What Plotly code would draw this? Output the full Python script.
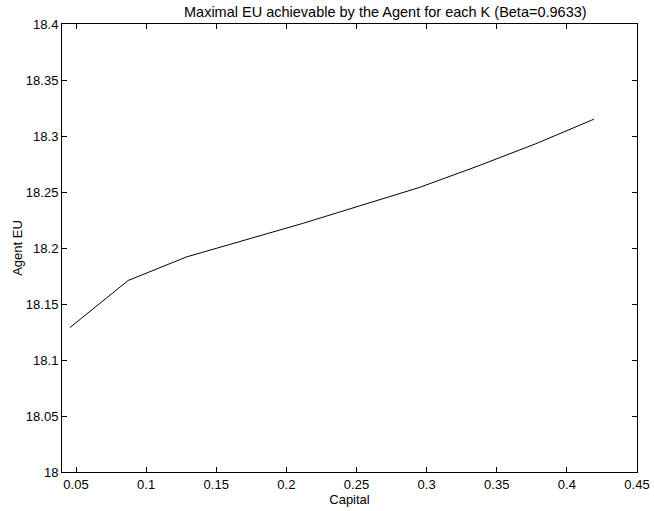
import plotly.graph_objects as go

capital = [0.0457, 0.0872, 0.1287, 0.1702, 0.2117, 0.2532, 0.2947, 0.3362, 0.3777, 0.4193]
agent_eu = [18.129, 18.171, 18.192, 18.207, 18.222, 18.238, 18.254, 18.273, 18.293, 18.315]

x_ticks = [0.05, 0.1, 0.15, 0.2, 0.25, 0.3, 0.35, 0.4, 0.45]
x_tick_labels = ["0.05", "0.1", "0.15", "0.2", "0.25", "0.3", "0.35", "0.4", "0.45"]
y_ticks = [18, 18.05, 18.1, 18.15, 18.2, 18.25, 18.3, 18.35, 18.4]
y_tick_labels = ["18", "18.05", "18.1", "18.15", "18.2", "18.25", "18.3", "18.35", "18.4"]

font = dict(family="Liberation Sans, Arial, sans-serif", size=13, color="black")

fig = go.Figure()
fig.add_trace(go.Scatter(x=capital, y=agent_eu, mode="lines",
                         line=dict(color="black", width=1), showlegend=False))

axis_common = dict(showline=True, linecolor="black", linewidth=1, mirror="ticks",
                   ticks="inside", ticklen=5, tickcolor="black", tickwidth=1,
                   showgrid=False, zeroline=False, tickfont=font, automargin=False)

fig.update_layout(
    width=654, height=511,
    margin=dict(l=62, r=17, t=24, b=39),
    paper_bgcolor="white", plot_bgcolor="white",
    font=font,
    xaxis=dict(range=[0.04, 0.45], tickvals=x_ticks, ticktext=x_tick_labels,
               title=dict(text="Capital", font=font, standoff=0), **axis_common),
    yaxis=dict(range=[18, 18.4], tickvals=y_ticks, ticktext=y_tick_labels,
               ticklabelstandoff=0,
               title=dict(text="Agent EU", font=font, standoff=0), **axis_common),
    annotations=[dict(text="Maximal EU achievable by the Agent for each K (Beta=0.9633)",
                      x=(385 - 62) / 575, xref="paper", y=1, yref="paper", showarrow=False,
                      xanchor="center", yanchor="bottom", yshift=2,
                      font=dict(family=font["family"], size=14.5, color="black"))],
)

fig.write_html("out.html")
